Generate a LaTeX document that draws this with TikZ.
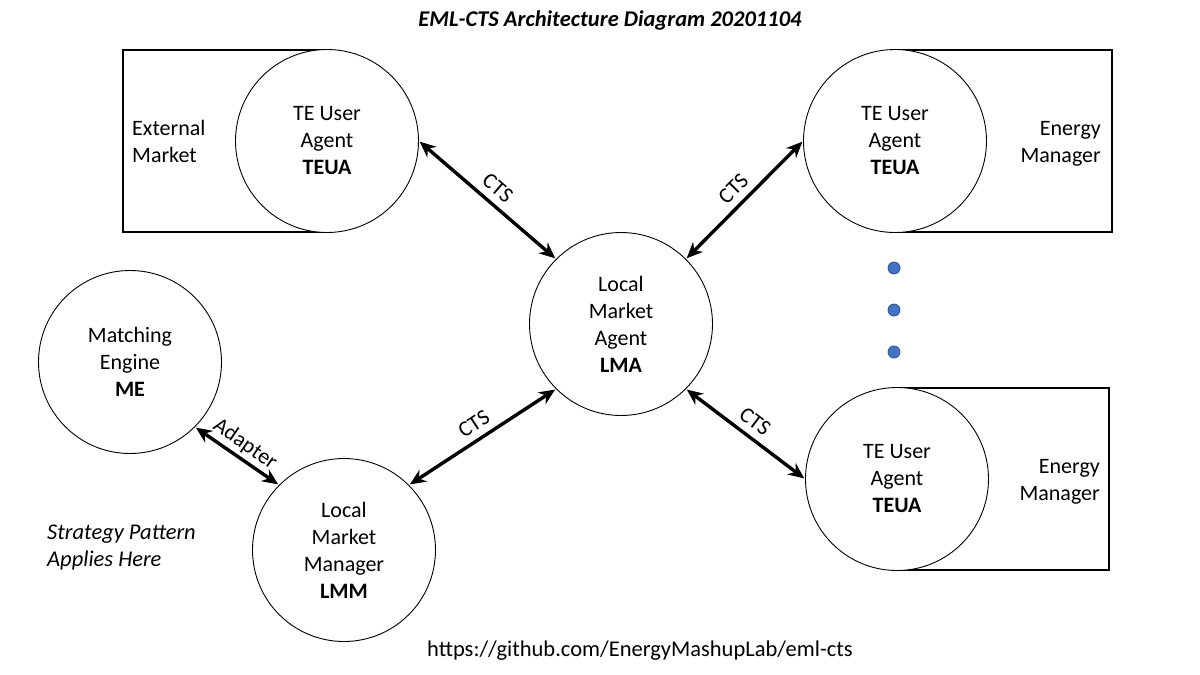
\documentclass[tikz,border=0pt]{standalone}
\usepackage{fontspec}
\setmainfont{Carlito}
\usetikzlibrary{arrows.meta}
\definecolor{dotblue}{HTML}{4472C4}
\definecolor{dotedge}{HTML}{2F528F}
\begin{document}
\begin{tikzpicture}[x=1pt,y=-1pt,
  agent/.style={circle,draw=black,line width=0.9pt,fill=white,minimum size=183pt,inner sep=0pt,align=center,font=\fontsize{22}{27}\selectfont},
  owner/.style={draw=black,line width=1.1pt},
  ownertext/.style={font=\fontsize{22}{27}\selectfont,inner sep=0pt},
  link/.style={line width=3.4pt,{Stealth[length=16pt,width=14pt]}-{Stealth[length=16pt,width=14pt]},shorten <=1pt,shorten >=1pt},
  linklabel/.style={midway,sloped,above,font=\fontsize{22}{26}\selectfont,inner sep=7pt},
  dot/.style={circle,fill=dotblue,draw=dotedge,line width=0.8pt,minimum size=12pt,inner sep=0pt}]
\useasboundingbox (0,0) rectangle (1200,675);
\fill[white] (0,0) rectangle (1200,675);

% title
\node[font=\fontsize{22.5}{26}\selectfont\bfseries\itshape] (title) at (610,20) {EML-CTS Architecture Diagram 20201104};

% owner boxes
\draw[owner] (327,50) -- (123,50) -- (123,232) -- (327,232);
\draw[owner] (895,50) -- (1112,50) -- (1112,232) -- (895,232);
\draw[owner] (897,388) -- (1109,388) -- (1109,570) -- (897,570);
\node[ownertext,anchor=west,align=left] (ext) at (132,141) {External\\Market};
\node[ownertext,anchor=east,align=right] (em1) at (1101,144) {Energy\\Manager};
\node[ownertext,anchor=east,align=right] (em2) at (1100,482) {Energy\\Manager};

% agents
\node[agent] (teua1) at (327,141) {TE User\\Agent\\\textbf{TEUA}};
\node[agent] (teua2) at (895,141) {TE User\\Agent\\\textbf{TEUA}};
\node[agent] (teua3) at (897,479) {TE User\\Agent\\\textbf{TEUA}};
\node[agent] (lma) at (621,324) {Local\\Market\\Agent\\\textbf{LMA}};
\node[agent] (me) at (130,362) {Matching\\Engine\\\textbf{ME}};
\node[agent] (lmm) at (344,550) {Local\\Market\\Manager\\\textbf{LMM}};

% dots
\node[dot] (d1) at (894,268) {};
\node[dot] (d2) at (894,310) {};
\node[dot] (d3) at (894,352) {};

% connectors
\draw[link] (teua1.east) -- node[linklabel] {CTS} (lma.north west);
\draw[link] (teua2.west) -- node[linklabel] {CTS} (lma.north east);
\draw[link] (lma.south west) -- node[linklabel] {CTS} (lmm.north east);
\draw[link] (lma.south east) -- node[linklabel] {CTS} (teua3.west);
\draw[link] (me.south east) -- node[linklabel,inner sep=3pt] {Adapter} (lmm.north west);

% notes
\node[font=\fontsize{22.5}{27}\selectfont\itshape,anchor=west,align=left,inner sep=0pt] (note) at (47,548) {Strategy Pattern\\Applies Here};
\node[font=\fontsize{22.5}{26}\selectfont] (url) at (640,651) {https://github.com/EnergyMashupLab/eml-cts};
\end{tikzpicture}
\end{document}
